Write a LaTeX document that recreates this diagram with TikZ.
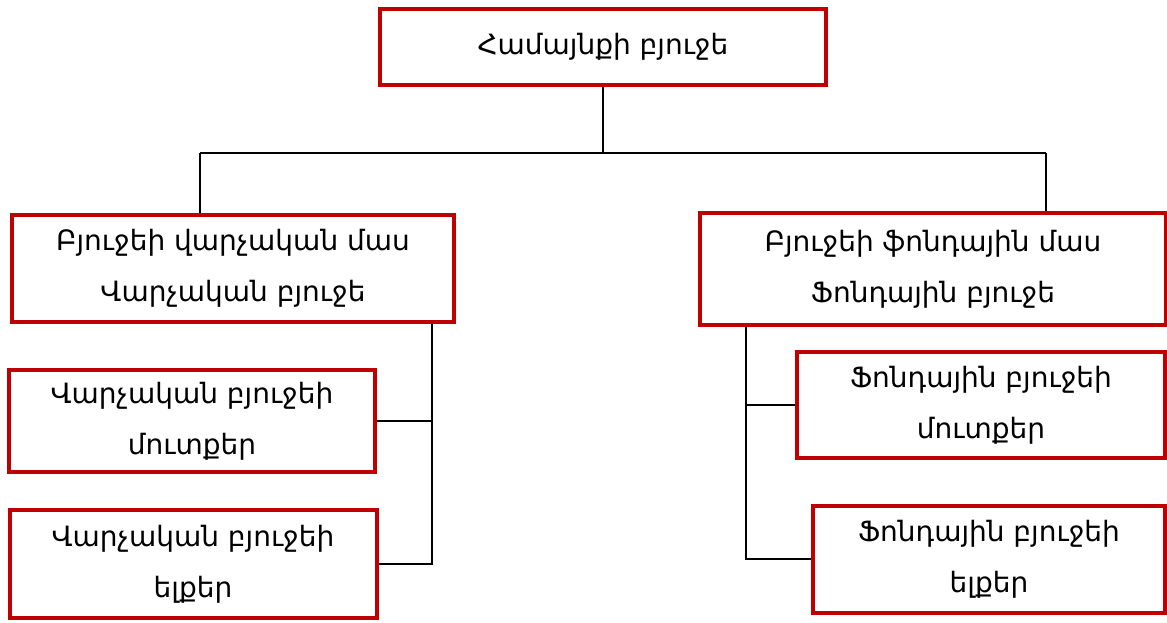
\documentclass[tikz,border=0pt]{standalone}
\usepackage{fontspec}
\setmainfont{DejaVu Sans}
\definecolor{boxred}{HTML}{C00000}
\begin{document}
\begin{tikzpicture}[x=1pt,y=-1pt,
  rbox/.style={draw=boxred,line width=4pt,inner sep=0pt,align=center,
    font=\fontsize{28}{51}\selectfont,text=black},
  conn/.style={draw=black,line width=1.5pt}]
\useasboundingbox (0,0) rectangle (1167,623);
\node[rbox,minimum width=446,minimum height=76] (top) at (603,47) {Համայնքի բյուջե};
\node[rbox,minimum width=442,minimum height=107] (L) at (233,268) {Բյուջեի վարչական մաս\\Վարչական բյուջե};
\node[rbox,minimum width=466,minimum height=112] (R) at (933,269) {Բյուջեի ֆոնդային մաս\\Ֆոնդային բյուջե};
\node[rbox,minimum width=366,minimum height=102] (L2) at (192,421) {Վարչական բյուջեի\\մուտքեր};
\node[rbox,minimum width=367,minimum height=108] (L3) at (193,564) {Վարչական բյուջեի\\ելքեր};
\node[rbox,minimum width=368,minimum height=106] (R2) at (981,405) {Ֆոնդային բյուջեի\\մուտքեր};
\node[rbox,minimum width=352,minimum height=107] (R3) at (989,559) {Ֆոնդային բյուջեի\\ելքեր};
\coordinate (bl) at (200,153);
\coordinate (br) at (1046,153);
\coordinate (lv) at (432,0);
\coordinate (rv) at (746,0);
\draw[conn] (bl) -- (br);
\draw[conn] (top.south) -- (top.south |- bl);
\draw[conn] (bl) -- (bl |- L.north);
\draw[conn] (br) -- (br |- R.north);
\draw[conn] (lv |- L.south) -- (lv |- L3.east) -- (L3.east);
\draw[conn] (L2.east) -- (lv |- L2.east);
\draw[conn] (rv |- R.south) -- (rv |- R3.west) -- (R3.west);
\draw[conn] (R2.west) -- (rv |- R2.west);
\end{tikzpicture}
\end{document}
